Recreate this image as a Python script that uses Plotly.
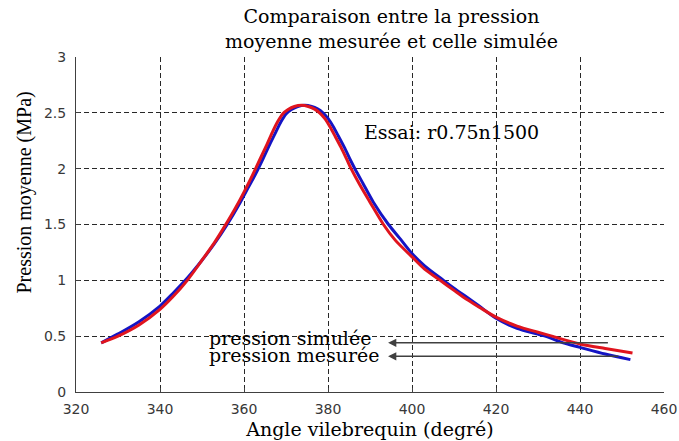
import plotly.graph_objects as go

# Crank angle (deg) and mean pressure (MPa): simulated curve
angle_sim = [326.0, 330, 335, 340, 343, 346.5, 350, 353, 355.5, 358, 360, 362, 364, 365.5,
             366.8, 368, 369.2, 370.5, 372, 373.7, 375.3, 376.7, 378, 379.2, 380.4, 381.7,
             383.1, 384.5, 385.5, 387.5, 390, 393.2, 396, 400, 403, 406.7, 410, 413, 416,
             420, 425, 430, 433.3, 440, 446, 452.5]
p_sim = [0.44, 0.50, 0.60, 0.74, 0.85, 1.00, 1.18, 1.34, 1.49, 1.65, 1.79, 1.94, 2.10, 2.22,
         2.33, 2.42, 2.49, 2.53, 2.557, 2.567, 2.557, 2.535, 2.50, 2.45, 2.38, 2.29,
         2.19, 2.08, 2.00, 1.86, 1.70, 1.50, 1.36, 1.21, 1.10, 1.00, 0.91, 0.83, 0.76,
         0.67, 0.59, 0.535, 0.50, 0.43, 0.39, 0.35]

# Measured curve
angle_mes = [326.0, 330, 335, 340, 343, 346.5, 350, 353, 356, 359, 361, 363, 364.8, 366.3,
             367.6, 368.8, 370, 371.3, 372.8, 374.5, 376.1, 377.5, 378.8, 380, 381.2, 382.5,
             383.9, 385.3, 386.4, 388.3, 390.8, 394.4, 397, 400, 403, 407.5, 410, 413, 416,
             420, 425, 431.7, 436, 440, 446, 452]
p_mes = [0.44, 0.52, 0.63, 0.77, 0.88, 1.02, 1.18, 1.33, 1.50, 1.69, 1.83, 1.97, 2.11, 2.23,
         2.33, 2.42, 2.49, 2.53, 2.557, 2.567, 2.557, 2.535, 2.50, 2.45, 2.38, 2.29,
         2.19, 2.08, 2.00, 1.87, 1.70, 1.50, 1.38, 1.24, 1.13, 1.00, 0.93, 0.85, 0.77,
         0.66, 0.57, 0.50, 0.44, 0.40, 0.34, 0.29]

x_ticks = [320, 340, 360, 380, 400, 420, 440, 460]
y_ticks = [0, 0.5, 1, 1.5, 2, 2.5, 3]

serif_wide = "DejaVu Serif"
serif = "Liberation Serif"
sans = "DejaVu Sans"

fig = go.Figure()
fig.add_trace(go.Scatter(x=angle_mes, y=p_mes, mode="lines", name="pression mesurée",
                         line=dict(color="#1414c4", width=3, shape="spline", smoothing=0.8)))
fig.add_trace(go.Scatter(x=angle_sim, y=p_sim, mode="lines", name="pression simulée",
                         line=dict(color="#e0141e", width=3, shape="spline", smoothing=0.8)))

axis_common = dict(
    showline=True, linecolor="#404040", linewidth=1, mirror=False,
    showgrid=True, gridcolor="#282828", gridwidth=1, griddash="5px,3px",
    zeroline=False, ticks="inside", ticklen=4, tickcolor="#404040",
    tickfont=dict(family=sans, size=14, color="#383838"),
    automargin=False,
)

fig.update_layout(
    width=679, height=441, autosize=False,
    margin=dict(l=76, r=15, t=57, b=49),
    paper_bgcolor="white", plot_bgcolor="white",
    showlegend=False,
    xaxis=dict(range=[320, 460], tickvals=x_ticks, ticklabelstandoff=4,
               title=dict(text="Angle vilebrequin (degré)", standoff=6,
                          font=dict(family=serif_wide, size=19, color="black")),
               **axis_common),
    yaxis=dict(range=[0, 3], tickvals=y_ticks, ticklabelstandoff=6, **axis_common),
)

# Two-line title
fig.add_annotation(x=0.537, y=1.085, xref="paper", yref="paper",
                   text="Comparaison entre la pression<br>moyenne mesurée et celle simulée",
                   showarrow=False, xanchor="center", yanchor="middle",
                   font=dict(family=serif_wide, size=19, color="black"))

# Vertical axis label
fig.add_annotation(x=-0.087, y=0.595, xref="paper", yref="paper",
                   text="Pression moyenne (MPa)", textangle=-90,
                   showarrow=False, xanchor="center", yanchor="middle",
                   font=dict(family=serif, size=20, color="black"))

# Test label
fig.add_annotation(x=388.1, y=2.33, xref="x", yref="y", text="Essai: r0.75n1500",
                   showarrow=False, xanchor="left", yanchor="middle",
                   font=dict(family=serif_wide, size=19, color="black"))

# Curve labels with leader arrows
fig.add_annotation(x=351.2, y=0.48, xref="x", yref="y", text="pression simulée",
                   showarrow=False, xanchor="left", yanchor="middle",
                   font=dict(family=serif_wide, size=19, color="black"))
fig.add_annotation(x=351.2, y=0.33, xref="x", yref="y", text="pression mesurée",
                   showarrow=False, xanchor="left", yanchor="middle",
                   font=dict(family=serif_wide, size=19, color="black"))
for y_arrow, x_tail in [(0.44, 447.0), (0.32, 449.5)]:
    fig.add_annotation(x=394.3, y=y_arrow, xref="x", yref="y",
                       ax=x_tail, ay=y_arrow, axref="x", ayref="y",
                       text="", showarrow=True, arrowhead=2, arrowsize=1.1,
                       arrowwidth=1.5, arrowcolor="#404040")

fig.write_html("out.html")
